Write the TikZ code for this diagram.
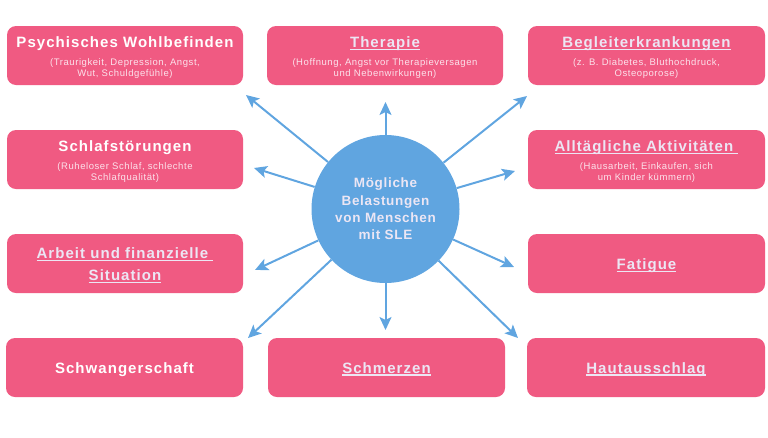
\documentclass[tikz,border=0pt]{standalone}
\usepackage{fontspec}
\setmainfont{Liberation Sans}
\usetikzlibrary{arrows.meta}
\definecolor{boxpink}{HTML}{F05A82}
\definecolor{circblue}{HTML}{60A5E0}
\definecolor{linkcol}{HTML}{ECE6F4}
\definecolor{subcol}{HTML}{FCE3EC}
\newcommand\lnkul[1]{\setbox0\hbox{#1}\rlap{\color{linkcol}\rule[-2.6pt]{\wd0}{1.2pt}}\box0}
\begin{document}
\begin{tikzpicture}[x=1pt,y=-1pt,
  box/.style={fill=boxpink, draw=none, rounded corners=9pt, minimum width=236pt, minimum height=59pt, inner sep=0pt},
  ttl/.style={anchor=base, text=white, inner sep=0pt, font=\bfseries\fontsize{15}{18}\selectfont\addfontfeatures{LetterSpace=7}},
  lnk/.style={ttl, text=linkcol},
  subtxt/.style={anchor=base, text=subcol, inner sep=0pt, align=center, font=\fontsize{9.5}{11.5}\selectfont\addfontfeatures{LetterSpace=6}},
  hub/.style={circle, fill=circblue, minimum size=148pt, inner sep=0pt, align=center, text=linkcol, font=\bfseries\fontsize{13.5}{17.4}\selectfont\addfontfeatures{LetterSpace=5}},
  arr/.style={draw=circblue, line width=2pt, -{Stealth[length=13pt,width=12pt,inset=3pt]}}
]
\useasboundingbox (0,0) rectangle (768,437);

% boxes
\node[box] (psy) at (125,55.5) {};
\node[box] (ther) at (385,55.5) {};
\node[box, minimum width=237pt] (beg) at (646.5,55.5) {};
\node[box] (sch) at (125,159.5) {};
\node[box] (arb) at (125,263.5) {};
\node[box, minimum width=237pt] (all) at (646.5,159.5) {};
\node[box, minimum width=237pt] (fat) at (646.5,263.5) {};
\node[box, minimum width=237pt] (schw) at (124.5,367.5) {};
\node[box, minimum width=237pt] (schm) at (386.5,367.5) {};
\node[box, minimum width=238pt] (haut) at (646,367.5) {};

% texts (subtitle nodes: base anchor = baseline of last line)
\node[ttl] (psyT) at (125,47.5) {Psychisches Wohlbefinden};
\node[subtxt] (psyS) at (125,76.5) {(Traurigkeit, Depression, Angst,\\Wut, Schuldgefühle)};
\node[lnk] (therT) at (385,47.5) {\lnkul{Therapie}};
\node[subtxt] (therS) at (385,76.5) {(Hoffnung, Angst vor Therapieversagen\\und Nebenwirkungen)};
\node[lnk] (begT) at (646.5,47.5) {\lnkul{Begleiterkrankungen}};
\node[subtxt] (begS) at (646.5,76.5) {(z. B. Diabetes, Bluthochdruck,\\Osteoporose)};
\node[ttl] (schT) at (125,151.5) {Schlafstörungen};
\node[subtxt] (schS) at (125,180.5) {(Ruheloser Schlaf, schlechte\\Schlafqualität)};
\node[lnk] (arbT1) at (125,258.5) {\lnkul{Arbeit und finanzielle }};
\node[lnk] (arbT2) at (125,280.5) {\lnkul{Situation}};
\node[lnk] (allT) at (646.5,151.5) {\lnkul{Alltägliche Aktivitäten }};
\node[subtxt] (allS) at (646.5,180.5) {(Hausarbeit, Einkaufen, sich\\um Kinder kümmern)};
\node[lnk] (fatT) at (646.5,269.5) {\lnkul{Fatigue}};
\node[ttl] (schwT) at (124.5,373) {Schwangerschaft};
\node[lnk] (schmT) at (386.5,373) {\lnkul{Schmerzen}};
\node[lnk] (hautT) at (646,373) {\lnkul{Hautausschlag}};

% hub
\node[hub] (c) at (385.5,209) {Mögliche\\Belastungen\\von Menschen\\mit SLE};

% arrow tips
\coordinate (tUL) at (246,95);
\coordinate (tU) at (385.5,102);
\coordinate (tUR) at (527,96);
\coordinate (tLU) at (254,168);
\coordinate (tRU) at (515,171);
\coordinate (tLL) at (255,270);
\coordinate (tRL) at (514,267);
\coordinate (tDL) at (248,338);
\coordinate (tD) at (385.5,330);
\coordinate (tDR) at (518,338);

\foreach \t in {tUL,tU,tUR,tLU,tRU,tLL,tRL,tDL,tD,tDR}
  \draw[arr] (c) -- (\t);
\end{tikzpicture}
\end{document}
